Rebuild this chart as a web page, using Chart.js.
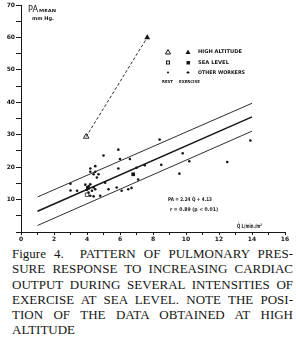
<!DOCTYPE html>
<html>
<head>
<meta charset="utf-8">
<script src="https://cdn.jsdelivr.net/npm/chart.js@4.4.0/dist/chart.umd.min.js"></script>
<style>
  html, body { margin: 0; padding: 0; background: #fff; }
  #wrap { position: relative; width: 296px; height: 246px; }
  #cap { width: 281px; margin-left: 12px; font-family: "Liberation Serif", serif; font-size: 13px; line-height: 15.3px; color: #151515; }
  #cap div { text-align: justify; text-align-last: justify; }
  #cap div.last { text-align-last: left; }
</style>
</head>
<body>
<div id="wrap"><canvas id="chart" width="296" height="246"></canvas></div>
<div id="cap">
  <div>Figure 4.&nbsp; PATTERN OF PULMONARY PRES-</div>
  <div>SURE RESPONSE TO INCREASING CARDIAC</div>
  <div>OUTPUT DURING SEVERAL INTENSITIES OF</div>
  <div>EXERCISE AT SEA LEVEL. NOTE THE POSI-</div>
  <div>TION OF THE DATA OBTAINED AT HIGH</div>
  <div class="last">ALTITUDE</div>
</div>
<script>
/* ===================== DATA ===================== */
// other workers (cardiac index L/min/m2, PA mean mm Hg)
const otherQ  = [3.0, 3.0, 3.4, 3.9, 4.0, 4.1, 4.2, 4.4, 4.1, 4.3, 4.2, 4.4, 4.2, 4.4, 4.5, 4.5, 4.2, 4.7, 4.6, 5.1, 4.5, 4.8, 5.0, 5.9, 6.0, 5.9, 5.3, 5.8, 6.1, 6.5, 6.7, 7.1, 7.0, 7.5, 6.6, 8.4, 9.8, 8.5, 10.2, 9.6, 12.5, 13.9];
const otherPA = [14.9, 12.8, 12.7, 14.6, 13.0, 14.2, 14.7, 13.7, 12.2, 12.7, 11.2, 11.0, 18.6, 17.8, 18.6, 20.3, 19.6, 17.8, 16.8, 15.2, 13.2, 11.2, 23.6, 25.4, 22.5, 19.6, 13.2, 13.7, 12.7, 13.2, 13.6, 16.2, 19.8, 20.6, 22.5, 28.5, 24.3, 20.7, 21.8, 18.0, 21.6, 28.2];

// sea level: rest (open) and exercise (filled)
const seaRestQ = [4.0], seaRestPA = [11.5];
const seaExQ   = [4.05, 6.8], seaExPA = [13.6, 17.8];

// high altitude: rest (open) and exercise (filled)
const altQ  = [3.95, 7.65];
const altPA = [29.4, 60.0];

// regression PA = 2.24 Q + 4.13 and its band (end points)
const lineQ     = [1, 14];
const lineMid   = [6.4, 35.5];
const lineUpper = [10.8, 39.7];
const lineLower = [2.0, 31.1];

const xTicks = [0, 2, 4, 6, 8, 10, 12, 14, 16];
const yTicks = [10, 20, 30, 40, 50, 60, 70];

/* ===================== HELPERS ===================== */
const pts = (xs, ys) => xs.map((x, i) => ({ x, y: ys[i] }));
const INK = "#161616";

function lineSet(ys, w) {
  return { type: "line", data: pts(lineQ, ys), borderColor: INK, borderWidth: w, pointRadius: 0, fill: false };
}

// draw text squeezed/stretched to a given width
function fitText(ctx, txt, x, y, w, size, weight) {
  ctx.save();
  ctx.font = (weight || "bold") + " " + size + "px 'DejaVu Sans', sans-serif";
  const m = ctx.measureText(txt).width;
  ctx.translate(x, y);
  ctx.scale(w / m, 1);
  ctx.textBaseline = "middle";
  ctx.fillText(txt, 0, 0);
  ctx.restore();
}

function tri(ctx, x, y, r, filled) {
  ctx.beginPath();
  ctx.moveTo(x, y - r);
  ctx.lineTo(x + r, y + r * 0.8);
  ctx.lineTo(x - r, y + r * 0.8);
  ctx.closePath();
  if (filled) ctx.fill(); else ctx.stroke();
}

/* ===================== LABELS PLUGIN ===================== */
const labels = {
  id: "labels",
  afterDraw(chart) {
    const ctx = chart.ctx;
    ctx.save();
    ctx.fillStyle = INK;
    ctx.strokeStyle = INK;
    ctx.lineWidth = 1;

    // y axis title
    fitText(ctx, "PA", 28, 10, 10, 8, "normal");
    fitText(ctx, "MEAN", 39, 11, 17, 4);
    fitText(ctx, "mm Hg.", 32, 19, 22, 5);

    // legend
    tri(ctx, 168, 52, 2.5, false);
    tri(ctx, 188, 52, 2.5, true);
    fitText(ctx, "HIGH ALTITUDE", 198, 52, 44, 5);
    ctx.strokeRect(166.5, 61, 3, 3);
    ctx.fillRect(186.5, 61, 3.5, 3.5);
    fitText(ctx, "SEA LEVEL", 198, 62.5, 31, 5);
    ctx.beginPath(); ctx.arc(168, 72.5, 1, 0, Math.PI * 2); ctx.fill();
    ctx.fillRect(187.5, 71, 1, 3); ctx.fillRect(186.5, 72, 3, 1);
    fitText(ctx, "OTHER WORKERS", 198, 72.5, 47, 5);
    fitText(ctx, "REST", 162, 81.5, 11, 4);
    fitText(ctx, "EXERCISE", 179, 81.5, 21, 4);

    // regression text
    fitText(ctx, "PA = 2.24 Q\u0307 + 4.13", 168, 200, 44, 5);
    fitText(ctx, "r = 0.89 (p < 0.01)", 170, 210, 48, 5);

    // x axis title
    fitText(ctx, "Q\u0307 L/min./m\u00B2", 237, 226, 25, 6);
    ctx.restore();
  }
};

/* ===================== CHART ===================== */
new Chart(document.getElementById("chart"), {
  type: "scatter",
  data: {
    datasets: [
      lineSet(lineUpper, 0.9),
      lineSet(lineMid, 1.5),
      lineSet(lineLower, 0.9),
      { type: "line", data: pts(altQ, altPA), borderColor: INK, borderWidth: 0.9, borderDash: [3, 2], pointRadius: 0, fill: false },
      { data: pts(otherQ, otherPA), pointStyle: "circle", pointRadius: 1.3, backgroundColor: INK, borderWidth: 0 },
      { data: pts(seaRestQ, seaRestPA), pointStyle: "rect", pointRadius: 2.4, backgroundColor: "#fff", borderColor: INK, borderWidth: 0.8 },
      { data: pts(seaExQ, seaExPA), pointStyle: "rect", pointRadius: 2.6, backgroundColor: INK, borderColor: INK, borderWidth: 0 },
      { data: pts(altQ.slice(0, 1), altPA.slice(0, 1)), pointStyle: "triangle", pointRadius: 3.2, backgroundColor: "#fff", borderColor: INK, borderWidth: 0.9 },
      { data: pts(altQ.slice(1), altPA.slice(1)), pointStyle: "triangle", pointRadius: 3.4, backgroundColor: INK, borderColor: INK, borderWidth: 0 }
    ]
  },
  options: {
    responsive: false,
    animation: false,
    layout: { padding: { top: 5, right: 11, left: 0, bottom: 0 } },
    plugins: { legend: { display: false }, tooltip: { enabled: false } },
    scales: {
      x: {
        type: "linear", min: 0, max: 16,
        border: { color: INK, width: 1 },
        grid: { drawOnChartArea: false, tickLength: 3, tickColor: INK },
        ticks: {
          stepSize: 1, autoSkip: false, maxRotation: 0, padding: 1,
          color: INK, font: { size: 6, family: "DejaVu Sans", weight: "bold" },
          callback: v => xTicks.includes(v) ? String(v) : ""
        },
        afterFit: s => { s.height = 14; s.paddingLeft = 0; s.paddingRight = 0; }
      },
      y: {
        type: "linear", min: 0, max: 70,
        border: { color: INK, width: 1 },
        grid: { drawOnChartArea: false, tickLength: 5, tickColor: INK },
        ticks: {
          stepSize: 5, autoSkip: false, padding: 1,
          color: INK, font: { size: 6, family: "DejaVu Sans", weight: "bold" },
          callback: v => yTicks.includes(v) ? String(v) : ""
        },
        afterFit: s => { s.width = 21; s.paddingTop = 0; s.paddingBottom = 0; }
      }
    }
  },
  plugins: [labels]
});
</script>
</body>
</html>
